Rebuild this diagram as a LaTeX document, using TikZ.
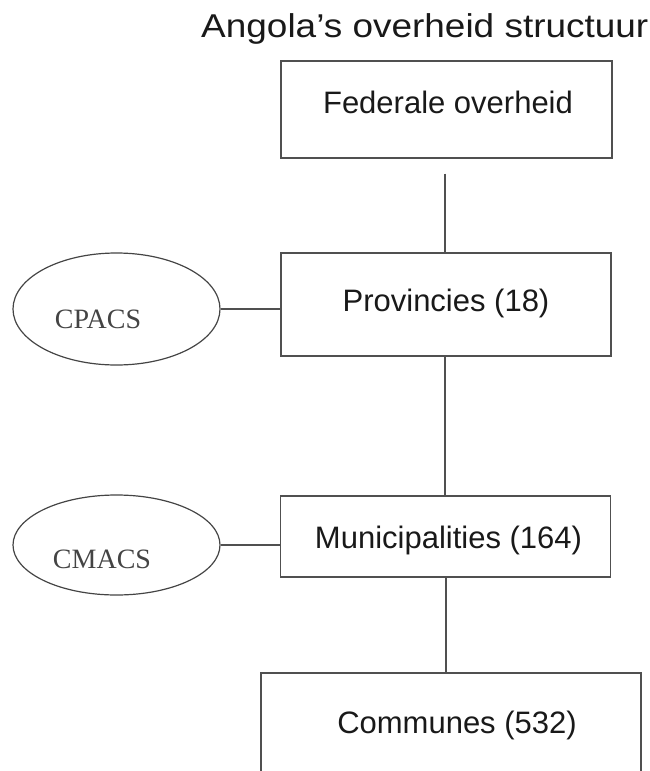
\documentclass[tikz,border=0pt]{standalone}
\usepackage{fontspec}
\setmainfont{Liberation Serif}
\newfontfamily\arialfont{Liberation Sans}
\usepackage{tikz}
\usetikzlibrary{shapes.geometric}

\definecolor{edgegray}{HTML}{505050}
\definecolor{ovalgray}{HTML}{444444}

\tikzset{
  levelbox/.style={draw=edgegray, line width=1.3pt, rectangle, inner sep=0pt},
  council/.style={draw=ovalgray, line width=1.2pt, ellipse, inner sep=0pt},
  boxtext/.style={font=\arialfont\fontsize{31}{36}\selectfont, text=black!90, anchor=base, inner sep=0pt},
  ovaltext/.style={font=\fontsize{28}{32}\selectfont, text=ovalgray, anchor=base, inner sep=0pt},
  link/.style={draw=edgegray, line width=1.3pt}
}

\begin{document}
\begin{tikzpicture}[x=1pt,y=1pt,yscale=-1,xscale=1]
\useasboundingbox (0,0) rectangle (649,771);

% Title
\draw (201,37) node [anchor=base west, inner sep=0pt, font=\arialfont\fontsize{33}{38}\selectfont, text=black!90] (title) {\scalebox{1.12}[1]{Angola’s overheid structuur}};

% Boxes
\draw (446.5,109.5) node [levelbox, minimum width=331pt, minimum height=97pt] (fed) {};
\draw (446,304.5) node [levelbox, minimum width=330pt, minimum height=103pt] (prov) {};
\draw (445.5,536.5) node [levelbox, minimum width=330pt, minimum height=81pt] (mun) {};
\draw (451,736.5) node [levelbox, minimum width=380pt, minimum height=127pt] (com) {};

% Ovals
\draw (116.5,309) node [council, minimum width=207pt, minimum height=112pt] (cpacs) {};
\draw (116.5,545) node [council, minimum width=207pt, minimum height=100pt] (cmacs) {};

% Text Node
\draw (448,113) node [boxtext] (fedtxt) {Federale overheid};
% Text Node
\draw (446,311) node [boxtext] (provtxt) {Provincies (18)};
% Text Node
\draw (448.5,548) node [boxtext] (muntxt) {Municipalities (164)};
% Text Node
\draw (457,733) node [boxtext] (comtxt) {Communes (532)};
% Text Node
\draw (98,328) node [ovaltext] (cpacstxt) {CPACS};
% Text Node
\draw (102,568) node [ovaltext] (cmacstxt) {CMACS};

% Lines
\draw [link, shorten <=15pt] (fed.south -| 445,0) -- (prov.north -| 445,0);
\draw [link] (prov.south -| 445,0) -- (mun.north -| 445,0);
\draw [link] (mun.south -| 446,0) -- (com.north -| 446,0);
\draw [link] (cpacs.east) -- (cpacs.east -| prov.west);
\draw [link] (cmacs.east) -- (cmacs.east -| mun.west);

\end{tikzpicture}
\end{document}
